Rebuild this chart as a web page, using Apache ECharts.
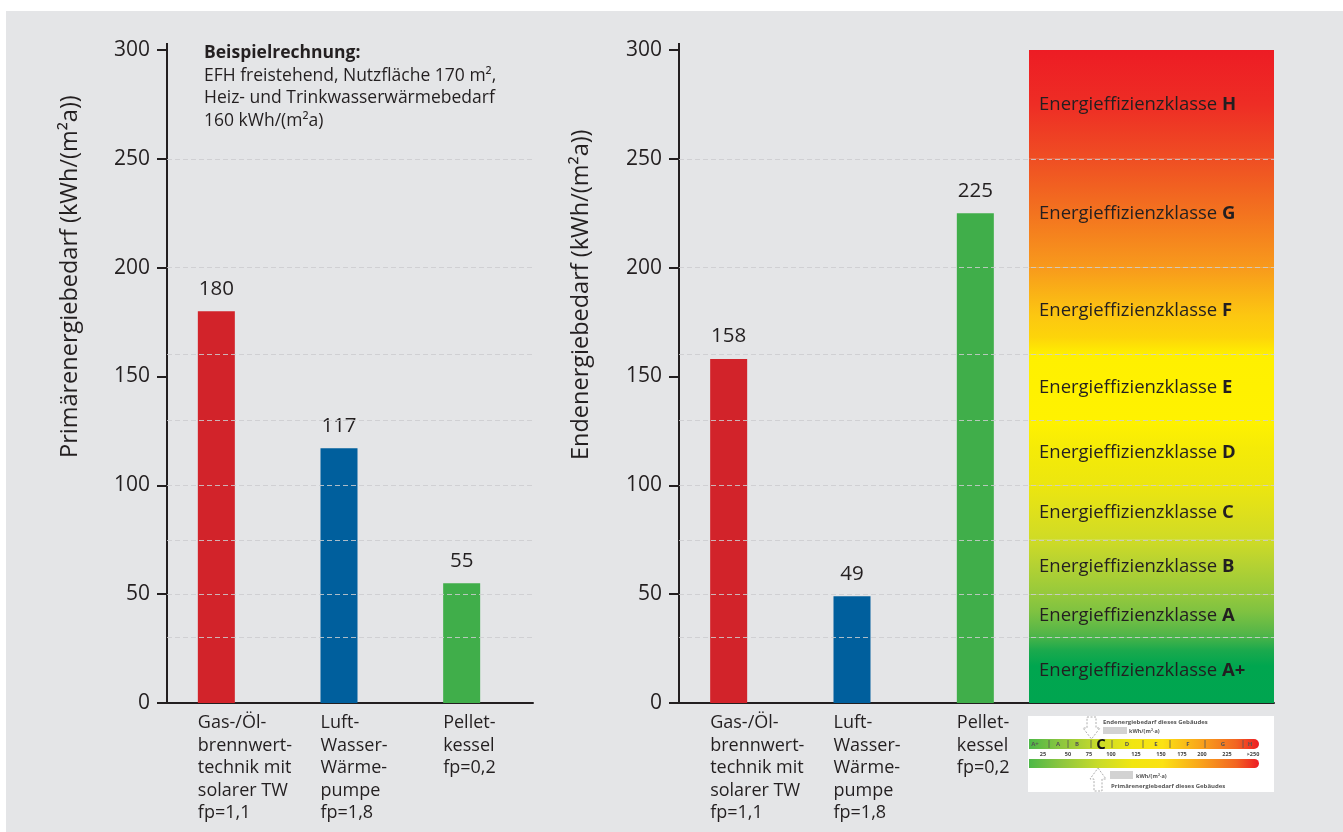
<!DOCTYPE html>
<html>
<head>
<meta charset="utf-8">
<script src="https://cdn.jsdelivr.net/npm/echarts@6/dist/echarts.min.js"></script>
<style>
  html, body { margin: 0; padding: 0; background: #ffffff; }
  #panel { position: absolute; left: 6px; top: 11px; width: 1337px; height: 821px; background: #e4e5e7; }
  #chart { position: absolute; left: 0; top: 0; width: 1343px; height: 832px; }
</style>
</head>
<body>
<div id="panel"></div>
<div id="chart"></div>
<script>
// ---- data ----
const categories = [
  'Gas-/Öl-\nbrennwert-\ntechnik mit\nsolarer TW\nfp=1,1',
  'Luft-\nWasser-\nWärme-\npumpe\nfp=1,8',
  'Pellet-\nkessel\nfp=0,2'
];
const primaryDemand = [180, 117, 55];   // Primärenergiebedarf kWh/(m²a)
const finalDemand = [158, 49, 225];     // Endenergiebedarf kWh/(m²a)
const axisMin = 0;
const axisMax = 300;
const axisInterval = 50;
const classNames = ['A+', 'A', 'B', 'C', 'D', 'E', 'F', 'G', 'H'];
const classBounds = [0, 30, 50, 75, 100, 130, 160, 200, 250, 300];
const yAxisTitles = ['Primärenergiebedarf (kWh/(m²a))', 'Endenergiebedarf (kWh/(m²a))'];
const noteTitle = 'Beispielrechnung:';
const noteLines = [
  'EFH freistehend, Nutzfläche 170 m²,',
  'Heiz- und Trinkwasserwärmebedarf',
  '160 kWh/(m²a)'
];
const scaleLetters = ['A+', 'A', 'B', 'C', 'D', 'E', 'F', 'G', 'H'];
const scaleNumbers = ['25', '50', '75', '100', '125', '150', '175', '200', '225', '>250'];

// ---- styles ----
const FONT = "'Open Sans', 'Noto Sans', sans-serif";
const INK = '#231f20';
const barColors = ['#d2232a', '#005f9d', '#40ae4a'];
// colour ramp of the efficiency band, from the top of the scale downwards
const ramp = [
  [300, '#ed1c24'], [275, '#ee2d25'], [250, '#ef4e23'], [225, '#f3731f'], [200, '#f89a1c'],
  [178, '#fcc711'], [168, '#fdd40a'], [160, '#fff000'], [130, '#fff200'], [117, '#f5eb07'],
  [100, '#ece60f'], [88, '#dfe01b'], [75, '#cfdb26'], [64, '#b6d232'], [50, '#95c93c'],
  [42, '#7fc241'], [32, '#55b648'], [24, '#1aa94d'], [17, '#00a64f'], [0, '#00a550']
];

function hexToRgb(h) { return [1, 3, 5].map(i => parseInt(h.substr(i, 2), 16)); }
function colorAt(v) {
  for (let i = 0; i < ramp.length - 1; i++) {
    const [v0, c0] = ramp[i], [v1, c1] = ramp[i + 1];
    if (v <= v0 && v >= v1) {
      const t = v0 === v1 ? 0 : (v0 - v) / (v0 - v1);
      const a = hexToRgb(c0), b = hexToRgb(c1);
      return 'rgb(' + a.map((x, k) => Math.round(x + (b[k] - x) * t)).join(',') + ')';
    }
  }
  return ramp[ramp.length - 1][1];
}
function segmentGradient(lo, hi) {
  const stops = [{ offset: 0, color: colorAt(hi) }];
  ramp.forEach(([v, c]) => { if (v < hi && v > lo) stops.push({ offset: (hi - v) / (hi - lo), color: c }); });
  stops.push({ offset: 1, color: colorAt(lo) });
  return new echarts.graphic.LinearGradient(0, 0, 0, 1, stops);
}

// ---- layout ----
const TOP = 50, HEIGHT = 653;
const grids = [
  { left: 167, top: TOP, width: 366, height: HEIGHT },   // 0 left frame
  { left: 155, top: TOP, width: 368, height: HEIGHT },   // 1 left bars
  { left: 679, top: TOP, width: 595, height: HEIGHT },   // 2 right frame
  { left: 667, top: TOP, width: 370, height: HEIGHT },   // 3 right bars
  { left: 1029, top: TOP, width: 245, height: HEIGHT }   // 4 efficiency band
];

function frameX(gi) {
  return {
    type: 'value', gridIndex: gi, min: 0, max: 1,
    axisLine: { show: true, onZero: false, lineStyle: { color: INK, width: 2 } },
    axisTick: { show: false }, axisLabel: { show: false }, splitLine: { show: false }
  };
}
function frameY(gi) {
  return {
    type: 'value', gridIndex: gi, min: axisMin, max: axisMax, interval: axisInterval,
    axisLine: { show: true, lineStyle: { color: INK, width: 2 } },
    axisTick: { show: true, length: 10, lineStyle: { color: INK, width: 2 } },
    axisLabel: { fontSize: 21, color: INK, fontFamily: FONT, margin: 17 },
    splitLine: { show: false }
  };
}
function barX(gi) {
  return {
    type: 'category', gridIndex: gi, data: categories,
    axisLine: { show: false }, axisTick: { show: false },
    axisLabel: {
      interval: 0, margin: 9, width: 37, overflow: 'none', align: 'center',
      formatter: v => v.split('\n').map(s => '{t|' + s + '}').join('\n'),
      rich: { t: { align: 'left', fontSize: 18, lineHeight: 22.5, color: INK, fontFamily: FONT } }
    }
  };
}
function hiddenY(gi) {
  return { type: 'value', gridIndex: gi, min: axisMin, max: axisMax, show: false, splitLine: { show: false } };
}
function barSeries(gi, values) {
  return {
    type: 'bar', xAxisIndex: gi, yAxisIndex: gi, barWidth: 37, z: 3,
    data: values.map((v, i) => ({ value: v, itemStyle: { color: barColors[i] } })),
    label: { show: true, position: 'top', distance: 12, fontSize: 20.5, color: INK, fontFamily: FONT }
  };
}
function dashedGuides(gi) {
  return {
    type: 'line', xAxisIndex: gi, yAxisIndex: gi, data: [], z: 10, silent: true,
    markLine: {
      silent: true, symbol: 'none', label: { show: false }, animation: false,
      lineStyle: { type: [5, 3], color: 'rgba(204,205,207,0.85)', width: 1 },
      data: classBounds.slice(1, -1).map(v => ({ yAxis: v }))
    }
  };
}

const bandSeries = classNames.map((name, i) => ({
  type: 'bar', xAxisIndex: 4, yAxisIndex: 4, stack: 'klasse', barWidth: '100%', z: 1, silent: true,
  data: [classBounds[i + 1] - classBounds[i]],
  itemStyle: { color: segmentGradient(classBounds[i], classBounds[i + 1]) },
  label: {
    show: true, position: 'insideLeft', distance: 10,
    formatter: '{n|Energieffizienzklasse }{b|' + name + '}',
    rich: {
      n: { fontSize: 18.5, color: INK, fontFamily: FONT },
      b: { fontSize: 18.5, color: INK, fontFamily: FONT, fontWeight: 'bold' }
    }
  }
}));

// ---- miniature energy certificate scale ----
function miniScale() {
  const els = [];
  const x0 = 1029, w = 230;
  const hGrad = () => new echarts.graphic.LinearGradient(0, 0, 1, 0, [
    { offset: 0, color: '#4db848' }, { offset: 0.14, color: '#8dc63f' }, { offset: 0.3, color: '#c8db2a' },
    { offset: 0.45, color: '#f1e611' }, { offset: 0.58, color: '#fbe214' }, { offset: 0.74, color: '#f9a61b' },
    { offset: 0.9, color: '#f26522' }, { offset: 1, color: '#ed1c24' }
  ]);
  els.push({ type: 'rect', shape: { x: 1028, y: 716, width: 246, height: 76 }, style: { fill: '#ffffff' } });
  els.push({ type: 'rect', shape: { x: x0, y: 739, width: w, height: 10, r: [0, 5, 5, 0] }, style: { fill: hGrad() } });
  els.push({ type: 'rect', shape: { x: x0, y: 759, width: w, height: 9, r: [0, 5, 5, 0] }, style: { fill: hGrad() } });
  [1049, 1068, 1091, 1112, 1143, 1170, 1205, 1243].forEach(x => {
    els.push({ type: 'line', shape: { x1: x, y1: 740, x2: x, y2: 748 }, style: { stroke: '#555', lineWidth: 0.8 } });
  });
  const letterX = [1035, 1058, 1077, 1101, 1127, 1156, 1188, 1223, 1250];
  scaleLetters.forEach((s, i) => {
    const big = s === 'C';
    els.push({ type: 'text', x: letterX[i], y: big ? 745 : 744, style: {
      text: s, fontSize: big ? 15 : 6, fontWeight: 'bold', fill: big ? '#111' : '#555',
      fontFamily: FONT, align: 'center', verticalAlign: 'middle' } });
  });
  const numX = [1043, 1068, 1089, 1111, 1136, 1161, 1182, 1202, 1227, 1253];
  scaleNumbers.forEach((s, i) => {
    els.push({ type: 'text', x: numX[i], y: 754, style: {
      text: s, fontSize: 5.5, fontWeight: 'bold', fill: '#444', fontFamily: FONT, align: 'center', verticalAlign: 'middle' } });
  });
  els.push({ type: 'text', x: 1103, y: 722, style: { text: 'Endenergiebedarf dieses Gebäudes', fontSize: 6, fontWeight: 'bold', fill: '#555', fontFamily: FONT, verticalAlign: 'middle' } });
  els.push({ type: 'rect', shape: { x: 1103, y: 727, width: 24, height: 7 }, style: { fill: '#d2d2d2' } });
  els.push({ type: 'text', x: 1129, y: 731, style: { text: 'kWh/(m²·a)', fontSize: 5.5, fontWeight: 'bold', fill: '#555', fontFamily: FONT, verticalAlign: 'middle' } });
  els.push({ type: 'rect', shape: { x: 1110, y: 771, width: 23, height: 8 }, style: { fill: '#d2d2d2' } });
  els.push({ type: 'text', x: 1136, y: 776, style: { text: 'kWh/(m²·a)', fontSize: 5.5, fontWeight: 'bold', fill: '#555', fontFamily: FONT, verticalAlign: 'middle' } });
  els.push({ type: 'text', x: 1111, y: 786, style: { text: 'Primärenergiebedarf dieses Gebäudes', fontSize: 6, fontWeight: 'bold', fill: '#555', fontFamily: FONT, verticalAlign: 'middle' } });
  els.push({ type: 'polygon', shape: { points: [[1087, 717], [1096, 717], [1096, 728], [1100, 728], [1091.5, 739], [1083, 728], [1087, 728]] },
    style: { fill: 'none', stroke: '#999', lineWidth: 0.8, lineDash: [2, 1.5] } });
  els.push({ type: 'polygon', shape: { points: [[1098, 768], [1106, 779], [1102, 779], [1102, 791], [1094, 791], [1094, 779], [1090, 779]] },
    style: { fill: 'none', stroke: '#999', lineWidth: 0.8, lineDash: [2, 1.5] } });
  return els;
}

// short overshoot of each value axis line above its top tick
function axisOvershoot(x) {
  return { type: 'line', shape: { x1: x, y1: TOP - 7, x2: x, y2: TOP }, style: { stroke: INK, lineWidth: 2 } };
}

const chart = echarts.init(document.getElementById('chart'), null, { renderer: 'canvas' });
chart.setOption({
  animation: false,
  textStyle: { fontFamily: FONT },
  grid: grids,
  xAxis: [frameX(0), barX(1), frameX(2), barX(3),
    { type: 'category', gridIndex: 4, data: ['Klasse'], show: false }],
  yAxis: [frameY(0), hiddenY(1), frameY(2), hiddenY(3), hiddenY(4)],
  series: [
    dashedGuides(0),
    barSeries(1, primaryDemand),
    dashedGuides(2),
    barSeries(3, finalDemand),
    ...bandSeries
  ],
  graphic: [
    axisOvershoot(grids[0].left),
    axisOvershoot(grids[2].left),
    { type: 'text', x: 70, y: 458, rotation: Math.PI / 2, style: {
      text: yAxisTitles[0], fontSize: 23.5, fill: INK, fontFamily: FONT, align: 'left', verticalAlign: 'middle' } },
    { type: 'text', x: 581, y: 460, rotation: Math.PI / 2, style: {
      text: yAxisTitles[1], fontSize: 23.5, fill: INK, fontFamily: FONT, align: 'left', verticalAlign: 'middle' } },
    { type: 'text', x: 204, y: 42, style: {
      text: '{b|' + noteTitle + '}\n' + noteLines.map(s => '{n|' + s + '}').join('\n'),
      rich: {
        b: { fontSize: 17.5, fontWeight: 'bold', fill: INK, fontFamily: FONT, lineHeight: 22.5 },
        n: { fontSize: 17.5, fill: INK, fontFamily: FONT, lineHeight: 22.5 }
      } } },
    ...miniScale()
  ]
});
</script>
</body>
</html>
